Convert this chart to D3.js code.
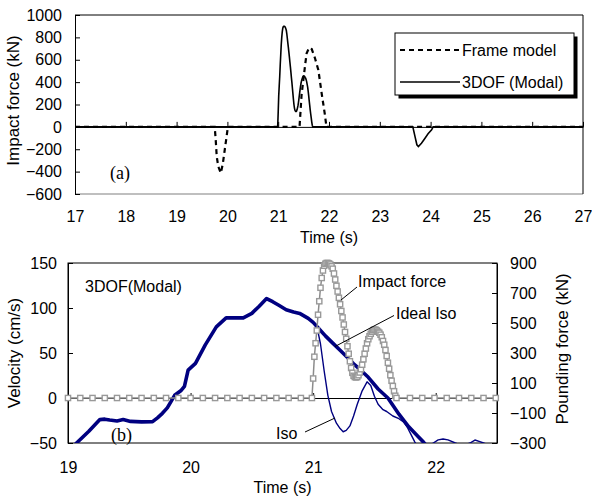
<!DOCTYPE html>
<html><head><meta charset="utf-8">
<script src="https://cdn.jsdelivr.net/npm/d3@7"></script>
<style>
body{margin:0;background:#fff}
svg{display:block}
text{font-family:"Liberation Sans",Arial,sans-serif;fill:#000}
.serif{font-family:"Liberation Serif","Times New Roman",serif}
</style>
</head><body>
<svg id="c" width="592" height="497"></svg>
<script>
// ---------- DATA ----------
// Top chart (a): impact force (kN) vs time (s)
const topTimeTicks = [17,18,19,20,21,22,23,24,25,26,27];
const topForceTicks = [-600,-400,-200,0,200,400,600,800,1000];

const frameT = [17, 19.75, 19.77, 19.79, 19.82, 19.87, 19.91, 19.94, 19.98, 20.01, 21.42, 21.46, 21.53, 21.56, 21.61, 21.66, 21.72, 21.79, 21.86, 21.92, 21.95, 27];
const frameF = [0, 0, -116, -265, -354, -413, -330, -230, -100, 0, 0, 286, 553, 658, 708, 695, 620, 509, 286, 107, 0, 0];

// pounding / impact force pulse of the 3DOF (Modal) model
const pulseT = [20.99,21.00,21.01,21.02,21.03,21.04,21.05,21.06,21.07,21.08,21.09,21.10,21.11,21.12,21.13,21.14,21.15,21.16,21.17,21.18,21.19,21.20,21.21,21.22,21.23,21.24,21.25,21.26,21.27,21.28,21.29,21.30,21.31,21.32,21.33,21.34,21.35,21.36,21.37,21.38,21.39,21.40,21.41,21.42,21.43,21.44,21.45,21.46,21.47,21.48,21.49,21.50,21.51,21.52,21.53,21.54,21.55,21.56,21.57,21.58,21.59,21.60,21.61,21.62,21.63,21.64,21.65,21.66,21.67,21.68];
const pulseF = [0,130,275,365,450,555,645,735,800,850,882,895,900,900,897,890,878,862,830,790,748,710,668,625,580,537,490,440,395,345,295,245,200,168,148,140,137,140,152,170,192,222,258,295,330,365,392,412,428,442,452,456,455,450,442,435,422,405,380,355,320,280,235,195,152,115,80,45,15,0];

const dipT = [23.65, 23.69, 23.73, 23.76, 23.82, 23.89, 23.95, 24.02, 24.05];
const dipF = [0, -80, -160, -176, -146, -101, -62, -27, 0];

// Bottom chart (b)
const botTimeTicks = [19,20,21,22];
const velTicks = [-50,0,50,100,150];
const poundTicks = [-300,-100,100,300,500,700,900];

const idealT = [19.00,19.07,19.17,19.26,19.30,19.34,19.40,19.45,19.51,19.60,19.69,19.73,19.77,19.81,19.87,19.92,19.95,19.98,20.04,20.12,20.21,20.29,20.36,20.43,20.50,20.56,20.62,20.67,20.72,20.78,20.84,20.89,20.96,21.00,21.04,21.10,21.16,21.22,21.28,21.33,21.38,21.45,21.53,21.61,21.70,21.78,21.85,21.90,21.95];
const idealV = [-60,-50,-37,-24,-23.5,-24.5,-25.5,-24,-26,-26.5,-26.3,-22,-17,-11,3,8,13,31,38.5,59,79,89,89,89,94,102,110.5,107,103,98,95.5,94,88.5,84,78,69,61,53,45,38,32,23,10,0,-18,-32,-42,-49,-57];

const isoT = [19.00,19.07,19.17,19.26,19.30,19.34,19.40,19.45,19.51,19.60,19.69,19.73,19.77,19.81,19.87,19.92,19.95,19.98,20.04,20.12,20.21,20.29,20.36,20.43,20.50,20.56,20.62,20.67,20.72,20.78,20.84,20.89,20.96,21.00,21.03,21.06,21.09,21.12,21.15,21.19,21.22,21.245,21.27,21.30,21.33,21.36,21.40,21.44,21.47,21.50,21.53,21.57,21.60,21.65,21.70,21.74,21.77,21.80,21.83,21.86,21.92,21.95,21.98,22.02,22.06,22.10,22.16,22.22,22.28,22.32,22.36,22.39,22.45,22.50];
const isoV = [-60,-50,-37,-24,-23.5,-24.5,-25.5,-24,-26,-26.5,-26.3,-22,-17,-11,3,8,13,31,38.5,59,79,89,89,89,94,102,110.5,107,103,98,95.5,94,88.5,84,80,60,30,3,-15,-28,-34,-37.5,-36,-31,-20,-7,8,18,14,2,-7,-13,-15,-20,-23,-27,-33,-41,-49,-55,-57,-53,-50,-46.5,-45.5,-46.5,-50,-53,-50,-46.7,-48.5,-50,-53,-54];

const forceBaseT1 = [19.0,19.1,19.2,19.3,19.4,19.5,19.6,19.7,19.8,19.9,20.0,20.1,20.2,20.3,20.4,20.5,20.6,20.7,20.8,20.9];
const forceBaseT2 = [21.79,21.89,21.99,22.09,22.19,22.29,22.39,22.49];

// ---------- DRAW ----------
const svg = d3.select("#c");
const fmt = d3.format("d");

// ===== Top chart =====
const T = {l:75, r:583, t:15, b:194};
const xT = d3.scaleLinear().domain([17,27]).range([T.l,T.r]);
const yT = d3.scaleLinear().domain([-600,1000]).range([T.b,T.t]);

svg.append("line").attr("x1",T.l).attr("x2",T.r).attr("y1",T.b).attr("y2",T.b).attr("stroke","#808080").attr("stroke-width",1.2);
svg.append("line").attr("x1",T.l).attr("x2",T.r).attr("y1",T.t).attr("y2",T.t).attr("stroke","#000");
svg.append("line").attr("x1",T.r).attr("x2",T.r).attr("y1",T.t).attr("y2",T.b).attr("stroke","#000");

const gLT = svg.append("g").attr("transform",`translate(${T.l},0)`)
  .call(d3.axisLeft(yT).tickValues(topForceTicks).tickFormat(fmt).tickSize(-5).tickSizeOuter(0).tickPadding(13));
gLT.selectAll("text").style("font-size","16px");
gLT.selectAll("path,line").attr("stroke","#000");

const gZT = svg.append("g").attr("transform",`translate(0,${yT(0)})`)
  .call(d3.axisBottom(xT).tickValues(topTimeTicks).tickSize(-5).tickSizeOuter(0).tickFormat(""));
gZT.selectAll("path,line").attr("stroke","#000");
const gXT = svg.append("g").attr("transform",`translate(0,${T.b})`)
  .call(d3.axisBottom(xT).tickValues(topTimeTicks).tickFormat(fmt).tickSize(0).tickPadding(17));
gXT.select(".domain").remove();
gXT.selectAll("text").style("font-size","16px");

svg.append("text").attr("x",(T.l+T.r)/2).attr("y",243).attr("text-anchor","middle").style("font-size","16px").text("Time (s)");
svg.append("text").attr("transform",`translate(19,${(T.t+T.b)/2-4}) rotate(-90)`).attr("text-anchor","middle").style("font-size","17px").text("Impact force (kN)");

const lineT = d3.line().x(d=>xT(d[0])).y(d=>yT(d[1]));
const modalTop = [[17,0]].concat(d3.zip(pulseT,pulseF), d3.zip(dipT,dipF), [[27,0]]);
svg.append("path").datum(modalTop).attr("d",lineT).attr("fill","none").attr("stroke","#000").attr("stroke-width",1.6);
svg.append("path").datum(d3.zip(frameT,frameF)).attr("d",lineT).attr("fill","none").attr("stroke","#000").attr("stroke-width",2.2).attr("stroke-dasharray","5,4");

svg.append("text").attr("class","serif").attr("x",110).attr("y",179).style("font-size","18px").text("(a)");

// legend
const L = {x:395, y:33, w:179, h:62};
svg.append("rect").attr("x",L.x+3.5).attr("y",L.y+3.5).attr("width",L.w).attr("height",L.h).attr("fill","#000");
svg.append("rect").attr("x",L.x).attr("y",L.y).attr("width",L.w).attr("height",L.h).attr("fill","#fff").attr("stroke","#000");
svg.append("line").attr("x1",400).attr("x2",460).attr("y1",50).attr("y2",50).attr("stroke","#000").attr("stroke-width",2.2).attr("stroke-dasharray","5,4");
svg.append("line").attr("x1",400).attr("x2",460).attr("y1",82).attr("y2",82).attr("stroke","#000").attr("stroke-width",1.6);
svg.append("text").attr("x",462).attr("y",56).style("font-size","16px").text("Frame model");
svg.append("text").attr("x",462).attr("y",88).style("font-size","16px").text("3DOF (Modal)");

// ===== Bottom chart =====
const B = {l:68, r:497, t:263, b:443};
const xB = d3.scaleLinear().domain([19,22.5]).range([B.l,B.r]);
const yV = d3.scaleLinear().domain([-50,150]).range([B.b,B.t]);
const yP = d3.scaleLinear().domain([-300,900]).range([B.b,B.t]);

svg.append("defs").append("clipPath").attr("id","clipB").append("rect")
  .attr("x",B.l).attr("y",B.t).attr("width",B.r-B.l).attr("height",B.b-B.t);

svg.append("rect").attr("x",B.l).attr("y",B.t).attr("width",B.r-B.l).attr("height",B.b-B.t).attr("fill","none").attr("stroke","#000");

const gLB = svg.append("g").attr("transform",`translate(${B.l},0)`)
  .call(d3.axisLeft(yV).tickValues(velTicks).tickFormat(fmt).tickSize(-5).tickSizeOuter(0).tickPadding(11));
gLB.selectAll("text").style("font-size","16px");
gLB.selectAll("path,line").attr("stroke","#000");

const gRB = svg.append("g").attr("transform",`translate(${B.r},0)`)
  .call(d3.axisRight(yP).tickValues(poundTicks).tickFormat(fmt).tickSize(-5).tickSizeOuter(0).tickPadding(13));
gRB.selectAll("text").style("font-size","16px");
gRB.selectAll("path,line").attr("stroke","#000");

const gZB = svg.append("g").attr("transform",`translate(0,${yV(0)})`)
  .call(d3.axisBottom(xB).tickValues(botTimeTicks).tickSize(-5).tickSizeOuter(0).tickFormat(""));
gZB.selectAll("path,line").attr("stroke","#000");
const gXB = svg.append("g").attr("transform",`translate(0,${B.b})`)
  .call(d3.axisBottom(xB).tickValues(botTimeTicks).tickFormat(fmt).tickSize(0).tickPadding(19));
gXB.select(".domain").remove();
gXB.selectAll("text").style("font-size","16px");

svg.append("text").attr("x",(B.l+B.r)/2).attr("y",493).attr("text-anchor","middle").style("font-size","16px").text("Time (s)");
svg.append("text").attr("transform",`translate(20,${(B.t+B.b)/2}) rotate(-90)`).attr("text-anchor","middle").style("font-size","17px").text("Velocity (cm/s)");
svg.append("text").attr("transform",`translate(568,${(B.t+B.b)/2-4}) rotate(-90)`).attr("text-anchor","middle").style("font-size","17px").text("Pounding force (kN)");

const lineV = d3.line().x(d=>xB(d[0])).y(d=>yV(d[1]));
const gClip = svg.append("g").attr("clip-path","url(#clipB)");
gClip.append("path").datum(d3.zip(idealT,idealV)).attr("d",lineV).attr("fill","none").attr("stroke","#000080").attr("stroke-width",3.6).attr("stroke-linejoin","round");
gClip.append("path").datum(d3.zip(isoT,isoV)).attr("d",lineV).attr("fill","none").attr("stroke","#000080").attr("stroke-width",1.4).attr("stroke-linejoin","round");

const forceData = forceBaseT1.map(t=>[t,0]).concat(d3.zip(pulseT,pulseF), forceBaseT2.map(t=>[t,0]));
const lineP = d3.line().x(d=>xB(d[0])).y(d=>yP(d[1]));
svg.append("path").datum(forceData).attr("d",lineP).attr("fill","none").attr("stroke","#8c8c8c").attr("stroke-width",1.5);
svg.append("g").selectAll("rect").data(forceData).join("rect")
  .attr("x",d=>xB(d[0])-2.6).attr("y",d=>yP(d[1])-2.6).attr("width",5.2).attr("height",5.2)
  .attr("fill","#fff").attr("stroke","#999").attr("stroke-width",1.4);

// annotations
svg.append("text").attr("x",85).attr("y",292).style("font-size","16px").text("3DOF(Modal)");
svg.append("text").attr("class","serif").attr("x",111).attr("y",441).style("font-size","18px").text("(b)");
svg.append("text").attr("x",358).attr("y",287).style("font-size","16px").text("Impact force");
svg.append("line").attr("x1",341).attr("y1",300).attr("x2",357).attr("y2",287).attr("stroke","#000");
svg.append("text").attr("x",396).attr("y",319).style("font-size","16px").text("Ideal Iso");
svg.append("line").attr("x1",335).attr("y1",346.5).attr("x2",394).attr("y2",315.5).attr("stroke","#000");
svg.append("text").attr("x",276).attr("y",439).style("font-size","16px").text("Iso");
svg.append("line").attr("x1",305).attr("y1",432).attr("x2",335).attr("y2",418).attr("stroke","#000");
</script>
</body></html>
